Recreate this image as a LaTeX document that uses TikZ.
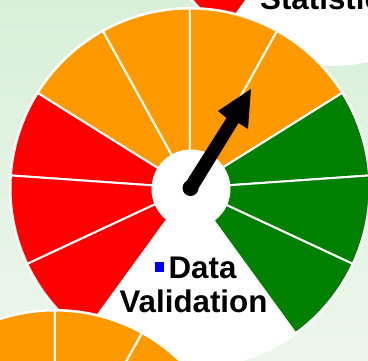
\documentclass[tikz,border=0pt]{standalone}
\usepackage{fontspec}
\setmainfont{Liberation Sans}
\definecolor{gaugeorange}{HTML}{FF9900}
\definecolor{gaugegreen}{HTML}{008000}
\definecolor{gaugeblue}{HTML}{0000FF}
\definecolor{bgtop}{HTML}{D8F0D8}
\definecolor{bgbottom}{HTML}{EDF6ED}
\tikzset{
  sector/.style={draw=white,line width=2pt,line join=miter},
  gaugetext/.style={font=\bfseries\fontsize{31.3}{34}\selectfont,anchor=base,inner sep=0pt,text=black},
}
\newcommand{\gaugesector}[5]{% cx cy start end colour
  \path[sector,fill=#5] (#1,#2) -- ++(#3:179.5pt) arc[start angle=#3,end angle=#4,radius=179.5pt] -- cycle;
}
\newcommand{\gaugedial}[2]{%
  \fill[white] (#1,#2) circle[radius=181pt];
  \gaugesector{#1}{#2}{148}{176}{red}
  \gaugesector{#1}{#2}{176}{205}{red}
  \gaugesector{#1}{#2}{205}{234}{red}
  \gaugesector{#1}{#2}{119}{148}{gaugeorange}
  \gaugesector{#1}{#2}{90}{119}{gaugeorange}
  \gaugesector{#1}{#2}{61}{90}{gaugeorange}
  \gaugesector{#1}{#2}{32}{61}{gaugeorange}
  \gaugesector{#1}{#2}{4}{32}{gaugegreen}
  \gaugesector{#1}{#2}{-25}{4}{gaugegreen}
  \gaugesector{#1}{#2}{-54}{-25}{gaugegreen}
  \fill[white] ($(#1,#2)+(1,-1)$) circle[radius=39.5pt];
}
\usetikzlibrary{calc}
\begin{document}
\begin{tikzpicture}[x=1pt,y=1pt]
\clip (0,0) rectangle (368,361);
\shade[top color=bgtop,bottom color=bgbottom] (0,0) rectangle (368,361);
% upper right dial
\gaugedial{330}{476}
\node[gaugetext,anchor=base west] (statistics) at (260,351) {Statistics};
% main dial
\gaugedial{190}{173}
\node[gaugetext] (validation) at (193.5,48.5) {Validation};
\node[gaugetext] (data) at (202.5,82.5) {Data};
\node[fill=gaugeblue,minimum size=9.5pt,inner sep=0pt] (bullet) at (159.5,94) {};
% needle
\fill[black] (190.5,173) circle[radius=8pt];
\fill[black] (184.5,176.6) -- (226.5,243) -- (218,250) -- (251,272) -- (248,232) -- (238.5,238) -- (196.5,169.4) -- cycle;
% lower left dial
\gaugedial{55}{-129}
\end{tikzpicture}
\end{document}
